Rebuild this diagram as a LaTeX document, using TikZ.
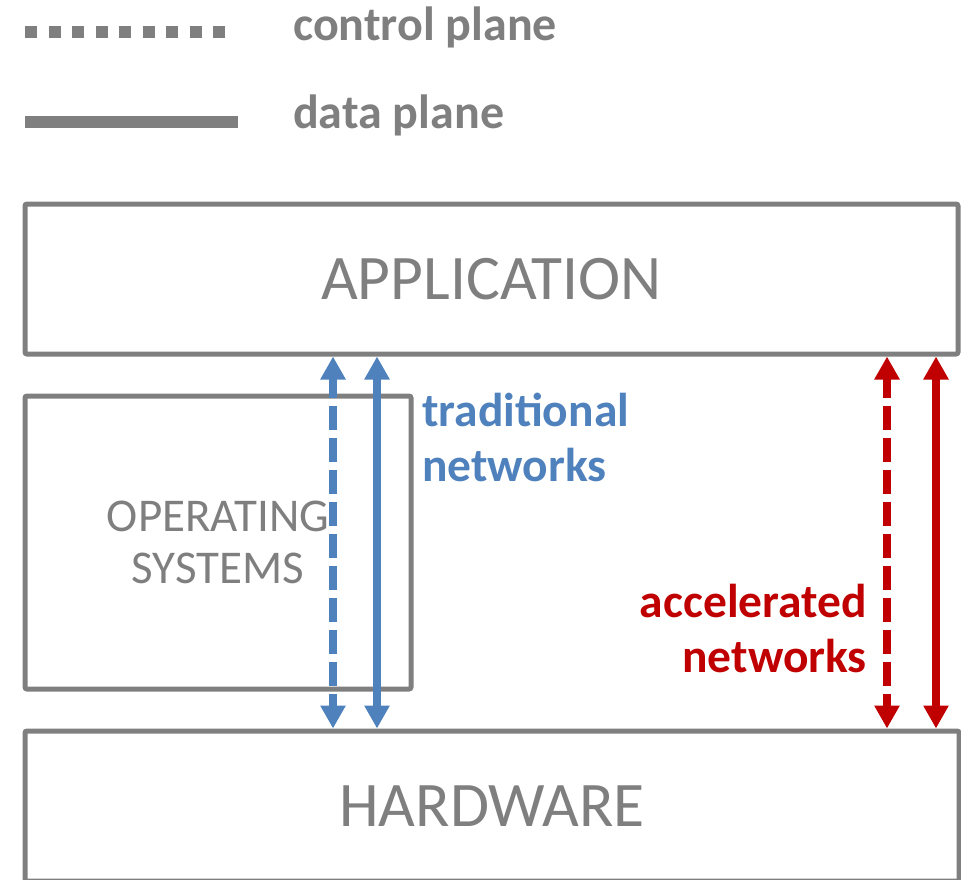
\documentclass[tikz,border=0pt]{standalone}
\usepackage{fontspec}
\setmainfont{Carlito}
\usetikzlibrary{arrows.meta}
\definecolor{framegray}{HTML}{7F7F7F}
\definecolor{tradblue}{HTML}{4F81BD}
\definecolor{accred}{HTML}{C00000}
\begin{document}
\begin{tikzpicture}[x=1pt,y=-1pt,
  layerbox/.style={draw=framegray,line width=5pt,rounded corners=2pt,inner sep=0pt,
    text=framegray,font=\fontsize{63.5}{70}\selectfont},
  osbox/.style={layerbox,font=\fontsize{47}{52}\selectfont,align=center},
  flow/.style={line width=8pt,{Triangle[length=23pt,width=24pt]}-{Triangle[length=23pt,width=24pt]}},
  ctlflow/.style={flow,dash pattern=on 24pt off 8pt,dash phase=4pt},
  legendtext/.style={text=framegray,font=\bfseries\fontsize{48}{52}\selectfont,anchor=base west,inner sep=0pt},
  flowlabel/.style={font=\bfseries\fontsize{47.5}{55}\selectfont,inner sep=0pt}]
\useasboundingbox (0,0) rectangle (961,879);

% legend
\coordinate (ctlA) at (25,32);
\coordinate (ctlB) at (229,32);
\coordinate (datA) at (25,122);
\coordinate (datB) at (238,122);
\draw[framegray,line width=12pt,dash pattern=on 12pt off 11.5pt] (ctlA) -- (ctlB);
\draw[framegray,line width=12pt] (datA) -- (datB);
\node[legendtext] (ctltext) at (293,40) {control plane};
\node[legendtext] (dattext) at (293,128) {data plane};

% layers
\node[layerbox,minimum width=933pt,minimum height=150pt] (app) at (491.5,279) {APPLICATION};
\node[osbox,minimum width=386pt,minimum height=293pt] (os) at (218,542.5) {OPERATING\\SYSTEMS};
\node[layerbox,minimum width=934pt,minimum height=150pt] (hw) at (492,806) {HARDWARE};

% flows between application and hardware
\coordinate (tradctl) at (333,0);
\coordinate (traddat) at (377,0);
\coordinate (accctl) at (887,0);
\coordinate (accdat) at (936,0);
\draw[ctlflow,tradblue] (tradctl |- app.south) -- (tradctl |- hw.north);
\draw[flow,tradblue] (traddat |- app.south) -- (traddat |- hw.north);
\draw[ctlflow,accred] (accctl |- app.south) -- (accctl |- hw.north);
\draw[flow,accred] (accdat |- app.south) -- (accdat |- hw.north);

\node[flowlabel,text=tradblue,align=left,anchor=north west] (tradlabel) at (422,393) {traditional\\networks};
\node[flowlabel,text=accred,align=right,anchor=north east] (acclabel) at (867,584) {accelerated\\networks};
\end{tikzpicture}
\end{document}
